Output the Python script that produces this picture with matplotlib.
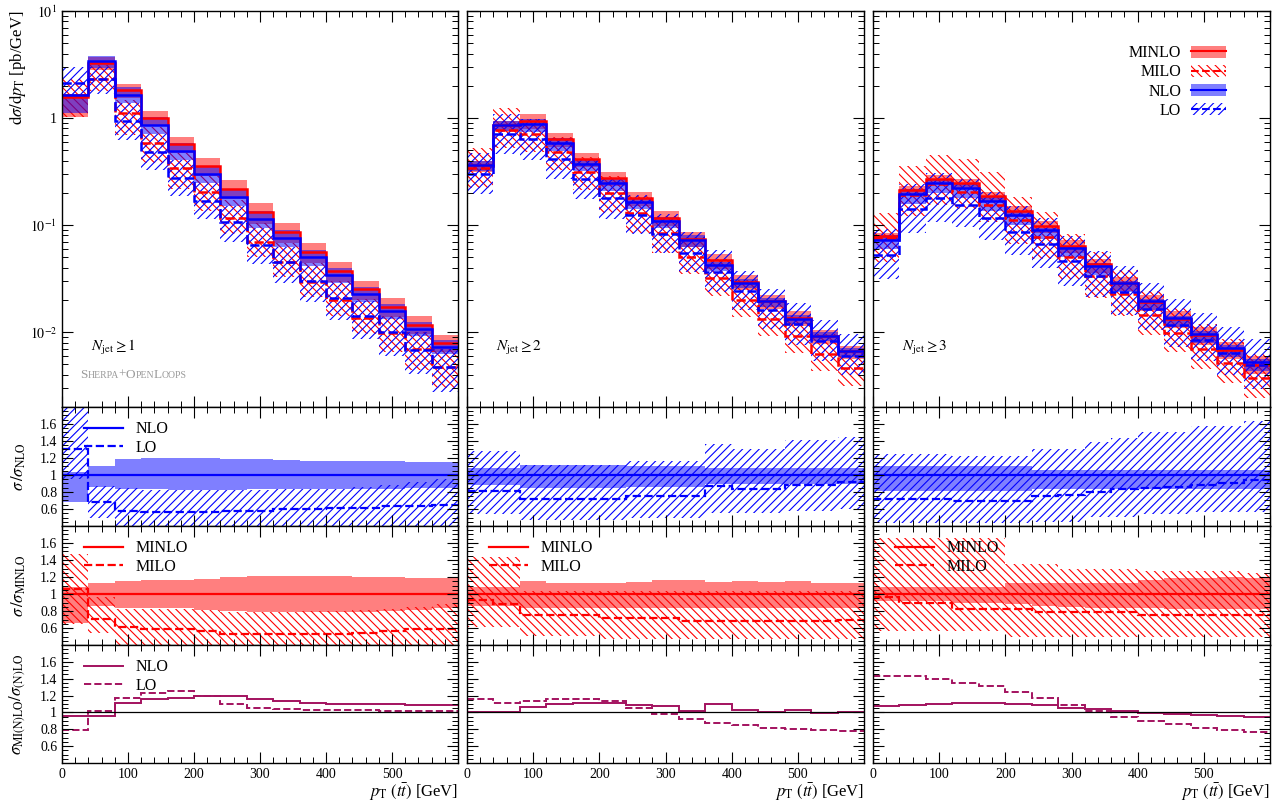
import numpy as np
import matplotlib
matplotlib.use("Agg")
import matplotlib.pyplot as plt
from matplotlib.lines import Line2D
from matplotlib.patches import Patch
from matplotlib.ticker import MultipleLocator, FixedLocator, FuncFormatter, LogLocator, NullFormatter
from matplotlib.offsetbox import TextArea, HPacker, AnnotationBbox

plt.rcParams['font.family'] = ['Liberation Serif', 'DejaVu Serif']
plt.rcParams['mathtext.fontset'] = 'stix'
plt.rcParams['hatch.linewidth'] = 0.8

# bin edges in pT(ttbar) [GeV]
edges = np.arange(0, 640, 40)

# ---------------- N_jet >= 1 ----------------
nlo_1 = [1.63, 3.44, 1.63, 0.86, 0.49, 0.30, 0.184, 0.114, 0.076, 0.050, 0.034, 0.0229, 0.0158, 0.0108, 0.0073]
nlo_up_1 = [1.04, 1.11, 1.19, 1.2, 1.2, 1.2, 1.19, 1.19, 1.18, 1.17, 1.17, 1.16, 1.16, 1.15, 1.15]
nlo_dn_1 = [0.68, 0.86, 0.84, 0.83, 0.82, 0.82, 0.82, 0.83, 0.83, 0.83, 0.84, 0.84, 0.84, 0.85, 0.85]
lo_r_1 = [1.30, 0.68, 0.575, 0.565, 0.565, 0.565, 0.575, 0.575, 0.595, 0.595, 0.615, 0.615, 0.635, 0.635, 0.65]
lo_up_1 = [1.85, 0.87, 0.85, 0.82, 0.82, 0.82, 0.82, 0.82, 0.83, 0.83, 0.84, 0.86, 0.88, 0.92, 0.95]
lo_dn_1 = [0.95, 0.49, 0.38, 0.38, 0.38, 0.38, 0.38, 0.38, 0.38, 0.38, 0.38, 0.38, 0.38, 0.38, 0.38]
mnlo_up_1 = [1.08, 1.125, 1.155, 1.165, 1.165, 1.175, 1.205, 1.21, 1.21, 1.21, 1.21, 1.205, 1.2, 1.19, 1.19]
mnlo_dn_1 = [0.66, 0.86, 0.84, 0.84, 0.83, 0.81, 0.8, 0.785, 0.785, 0.785, 0.785, 0.79, 0.8, 0.81, 0.83]
milo_r_1 = [1.06, 0.71, 0.61, 0.59, 0.59, 0.57, 0.53, 0.53, 0.53, 0.53, 0.53, 0.54, 0.57, 0.59, 0.59]
milo_up_1 = [1.47, 0.96, 0.82, 0.82, 0.82, 0.81, 0.79, 0.79, 0.79, 0.8, 0.8, 0.81, 0.82, 0.85, 0.88]
milo_dn_1 = [0.65, 0.54, 0.38, 0.38, 0.38, 0.38, 0.38, 0.38, 0.38, 0.38, 0.38, 0.38, 0.38, 0.38, 0.38]
k_nlo_1 = [0.957, 0.957, 1.113, 1.164, 1.172, 1.19, 1.19, 1.156, 1.133, 1.117, 1.105, 1.1, 1.095, 1.09, 1.086]
k_lo_1 = [0.79, 1.016, 1.175, 1.234, 1.25, 1.19, 1.105, 1.058, 1.04, 1.03, 1.027, 1.023, 1.02, 1.018, 1.016]

# ---------------- N_jet >= 2 ----------------
nlo_2 = [0.365, 0.86, 0.88, 0.58, 0.373, 0.247, 0.164, 0.109, 0.0732, 0.0423, 0.0289, 0.0194, 0.0133, 0.00928, 0.00662]
nlo_up_2 = [1.08, 1.08, 1.12, 1.12, 1.12, 1.12, 1.1, 1.1, 1.1, 1.08, 1.08, 1.08, 1.08, 1.08, 1.08]
nlo_dn_2 = [0.88, 0.88, 0.85, 0.85, 0.85, 0.85, 0.86, 0.86, 0.86, 0.89, 0.89, 0.89, 0.89, 0.89, 0.89]
lo_r_2 = [0.817, 0.817, 0.72, 0.72, 0.72, 0.72, 0.75, 0.75, 0.75, 0.87, 0.83, 0.83, 0.887, 0.887, 0.914]
lo_up_2 = [1.28, 1.28, 1.12, 1.12, 1.12, 1.12, 1.17, 1.17, 1.17, 1.37, 1.3, 1.3, 1.41, 1.41, 1.45]
lo_dn_2 = [0.536, 0.536, 0.466, 0.466, 0.466, 0.466, 0.5, 0.5, 0.5, 0.555, 0.555, 0.555, 0.575, 0.575, 0.595]
mnlo_up_2 = [1.08, 1.08, 1.156, 1.13, 1.13, 1.13, 1.136, 1.164, 1.164, 1.145, 1.156, 1.145, 1.15, 1.13, 1.125]
mnlo_dn_2 = [0.86, 0.86, 0.84, 0.84, 0.84, 0.84, 0.84, 0.84, 0.84, 0.84, 0.84, 0.84, 0.84, 0.84, 0.84]
milo_r_2 = [0.93, 0.883, 0.755, 0.755, 0.755, 0.72, 0.72, 0.72, 0.68, 0.68, 0.68, 0.68, 0.68, 0.68, 0.70]
milo_up_2 = [1.437, 1.437, 1.04, 1.04, 1.04, 1.04, 1.04, 1.04, 1.04, 1.04, 1.04, 1.04, 1.04, 1.04, 1.04]
milo_dn_2 = [0.61, 0.61, 0.51, 0.51, 0.51, 0.47, 0.47, 0.47, 0.47, 0.47, 0.47, 0.47, 0.47, 0.47, 0.47]
k_nlo_2 = [1.0, 1.01, 1.066, 1.097, 1.113, 1.113, 1.094, 1.078, 1.02, 1.105, 1.027, 1.0, 1.027, 0.99, 1.0]
k_lo_2 = [1.156, 1.113, 1.133, 1.156, 1.156, 1.133, 1.047, 0.98, 0.918, 0.879, 0.852, 0.82, 0.805, 0.786, 0.774]

# ---------------- N_jet >= 3 ----------------
nlo_3 = [0.0733, 0.196, 0.247, 0.222, 0.168, 0.123, 0.0894, 0.0606, 0.0415, 0.0286, 0.0194, 0.0135, 0.00962, 0.0071, 0.00525]
nlo_up_3 = [1.1, 1.1, 1.1, 1.1, 1.1, 1.1, 1.06, 1.06, 1.06, 1.06, 1.06, 1.06, 1.06, 1.06, 1.06]
nlo_dn_3 = [0.81, 0.81, 0.81, 0.81, 0.81, 0.81, 0.83, 0.83, 0.83, 0.83, 0.83, 0.83, 0.83, 0.83, 0.83]
lo_r_3 = [0.723, 0.723, 0.723, 0.70, 0.70, 0.70, 0.75, 0.77, 0.80, 0.83, 0.848, 0.86, 0.887, 0.906, 0.945]
lo_up_3 = [1.245, 1.245, 1.245, 1.22, 1.22, 1.22, 1.30, 1.30, 1.385, 1.44, 1.5, 1.5, 1.577, 1.577, 1.64]
lo_dn_3 = [0.43, 0.43, 0.43, 0.43, 0.43, 0.43, 0.447, 0.447, 0.51, 0.51, 0.536, 0.536, 0.563, 0.563, 0.563]
mnlo_up_3 = [1.08, 1.08, 1.08, 1.08, 1.08, 1.125, 1.125, 1.135, 1.135, 1.135, 1.17, 1.19, 1.19, 1.2, 1.19]
mnlo_dn_3 = [0.92, 0.92, 0.92, 0.9, 0.9, 0.88, 0.86, 0.85, 0.84, 0.84, 0.83, 0.82, 0.82, 0.82, 0.82]
milo_r_3 = [0.96, 0.895, 0.895, 0.825, 0.825, 0.825, 0.786, 0.786, 0.786, 0.786, 0.75, 0.75, 0.75, 0.75, 0.75]
milo_up_3 = [1.66, 1.66, 1.66, 1.66, 1.66, 1.35, 1.35, 1.3, 1.3, 1.3, 1.27, 1.27, 1.27, 1.27, 1.25]
milo_dn_3 = [0.57, 0.57, 0.57, 0.57, 0.57, 0.49, 0.49, 0.49, 0.49, 0.49, 0.49, 0.49, 0.49, 0.49, 0.49]
k_nlo_3 = [1.074, 1.086, 1.097, 1.113, 1.117, 1.097, 1.094, 1.058, 1.035, 1.016, 0.988, 0.98, 0.97, 0.96, 0.95]
k_lo_3 = [1.437, 1.43, 1.40, 1.35, 1.31, 1.24, 1.17, 1.086, 1.02, 0.95, 0.9, 0.864, 0.813, 0.786, 0.766]

njet_labels = [r'$N_\mathrm{jet} \geq 1$', r'$N_\mathrm{jet} \geq 2$', r'$N_\mathrm{jet} \geq 3$']

columns = [
    (nlo_1, nlo_up_1, nlo_dn_1, lo_r_1, lo_up_1, lo_dn_1, mnlo_up_1, mnlo_dn_1, milo_r_1, milo_up_1, milo_dn_1, k_nlo_1, k_lo_1),
    (nlo_2, nlo_up_2, nlo_dn_2, lo_r_2, lo_up_2, lo_dn_2, mnlo_up_2, mnlo_dn_2, milo_r_2, milo_up_2, milo_dn_2, k_nlo_2, k_lo_2),
    (nlo_3, nlo_up_3, nlo_dn_3, lo_r_3, lo_up_3, lo_dn_3, mnlo_up_3, mnlo_dn_3, milo_r_3, milo_up_3, milo_dn_3, k_nlo_3, k_lo_3),
]

RED = '#ff0000'
BLUE = '#0000ff'
PURP = '#a3125f'
HB = '////'
HR = '\\\\\\\\'

W, H = 1285, 805
col_px = [(62, 458), (467, 864), (873, 1270)]
row_px = [(11, 407), (407, 526), (526, 645), (645, 763)]

fig = plt.figure(figsize=(W / 100, H / 100), dpi=100)


def rect(c, r):
    x0, x1 = c
    y0, y1 = r
    return [x0 / W, 1 - y1 / H, (x1 - x0) / W, (y1 - y0) / H]


def band(ax, lo, hi, color, hatch=None):
    if hatch is None:
        ax.stairs(hi, edges, baseline=lo, fill=True, facecolor=color, alpha=0.5, lw=0)
    else:
        ax.stairs(hi, edges, baseline=lo, fill=True, facecolor='none', edgecolor=color, hatch=hatch, lw=0)


def line(ax, vals, color, lw, ls='-', label=None):
    ax.stairs(vals, edges, baseline=None, color=color, lw=lw, ls=ls, label=label)


def style(ax):
    ax.set_xlim(0, 600)
    ax.xaxis.set_major_locator(MultipleLocator(100))
    ax.xaxis.set_minor_locator(MultipleLocator(20))
    ax.tick_params(which='both', direction='in', top=True, right=True, labelsize=10)
    ax.tick_params(which='major', length=8, width=0.8)
    ax.tick_params(which='minor', length=4, width=0.7)
    for s in ax.spines.values():
        s.set_linewidth(1.0)


def smallcaps(ax, x, y, pieces, color):
    boxes = [TextArea(t, textprops=dict(fontsize=fs, color=color)) for t, fs in pieces]
    pack = HPacker(children=boxes, align='baseline', pad=0, sep=0)
    ab = AnnotationBbox(pack, (x, y), xycoords='axes fraction', frameon=False, box_alignment=(0, 0.5))
    ax.add_artist(ab)


for ci, data in enumerate(columns):
    (nlo, nlo_up, nlo_dn, lo_r, lo_up, lo_dn, mnlo_up, mnlo_dn,
     milo_r, milo_up, milo_dn, k_nlo, k_lo) = [np.array(a) for a in data]
    minlo = nlo * k_nlo
    lo = nlo * lo_r
    milo = minlo * milo_r

    # ---- main panel ----
    ax = fig.add_axes(rect(col_px[ci], row_px[0]))
    band(ax, minlo * mnlo_dn, minlo * mnlo_up, RED)
    band(ax, minlo * milo_dn, minlo * milo_up, RED, HR)
    band(ax, nlo * nlo_dn, nlo * nlo_up, BLUE)
    band(ax, nlo * lo_dn, nlo * lo_up, BLUE, HB)
    line(ax, minlo, RED, 1.8)
    line(ax, milo, RED, 1.8, '--')
    line(ax, nlo, BLUE, 1.8)
    line(ax, lo, BLUE, 1.8, '--')
    ax.set_yscale('log')
    ax.set_ylim(2e-3, 10)
    style(ax)
    ax.yaxis.set_major_locator(FixedLocator([1e-2, 1e-1, 1, 10]))
    ax.yaxis.set_minor_locator(LogLocator(base=10, subs=np.arange(2, 10)))
    ax.yaxis.set_minor_formatter(NullFormatter())
    ax.tick_params(labelbottom=False)
    if ci == 0:
        lab = {1e-2: r'$10^{-2}$', 1e-1: r'$10^{-1}$', 1: '1', 10: r'$10^{1}$'}
        ax.yaxis.set_major_formatter(FuncFormatter(lambda v, p: lab.get(v, '')))
        ax.set_ylabel(r'$\mathrm{d}\sigma/\mathrm{d}p_\mathrm{T}$ [pb/GeV]', fontsize=12, loc='top')
        ax.yaxis.set_label_coords(-0.085, 1.0)
        smallcaps(ax, 0.045, 0.081,
                  [('S', 9.5), ('HERPA', 7), ('+', 9.5), ('O', 9.5), ('PEN', 7), ('L', 9.5), ('OOPS', 7)],
                  '#9a9a9a')
    else:
        ax.tick_params(labelleft=False)
    ax.text(0.072, 0.149, njet_labels[ci], transform=ax.transAxes, fontsize=11, va='center')
    if ci == 2:
        handles = [
            (Patch(facecolor=RED, alpha=0.5, lw=0), Line2D([], [], color=RED, lw=1.5)),
            (Patch(facecolor='none', edgecolor=RED, hatch=HR, lw=0), Line2D([], [], color=RED, lw=1.5, ls='--')),
            (Patch(facecolor=BLUE, alpha=0.5, lw=0), Line2D([], [], color=BLUE, lw=1.5)),
            (Patch(facecolor='none', edgecolor=BLUE, hatch=HB, lw=0), Line2D([], [], color=BLUE, lw=1.5, ls='--')),
        ]
        ax.legend(handles, ['MINLO', 'MILO', 'NLO', 'LO'], loc='upper right', bbox_to_anchor=(0.925, 0.95),
                  markerfirst=False, frameon=False, fontsize=11.5, handlelength=2.2, handleheight=0.8,
                  labelspacing=0.2, handletextpad=0.6)

    # ---- ratio panels ----
    ones = np.ones(len(nlo))
    for ri in range(3):
        rx = fig.add_axes(rect(col_px[ci], row_px[ri + 1]))
        if ri == 0:
            band(rx, nlo_dn, nlo_up, BLUE)
            band(rx, lo_dn, lo_up, BLUE, HB)
            line(rx, ones, BLUE, 1.6, label='NLO')
            line(rx, lo_r, BLUE, 1.6, '--', label='LO')
            show_leg = ci == 0
        elif ri == 1:
            band(rx, mnlo_dn, mnlo_up, RED)
            band(rx, milo_dn, milo_up, RED, HR)
            line(rx, ones, RED, 1.6, label='MINLO')
            line(rx, milo_r, RED, 1.6, '--', label='MILO')
            show_leg = True
        else:
            rx.axhline(1.0, color='black', lw=0.9)
            line(rx, k_nlo, PURP, 1.4, label='NLO')
            line(rx, k_lo, PURP, 1.4, '--', label='LO')
            show_leg = ci == 0
        rx.set_ylim(0.4, 1.8)
        style(rx)
        rx.yaxis.set_major_locator(FixedLocator([0.6, 0.8, 1.0, 1.2, 1.4, 1.6]))
        rx.yaxis.set_minor_locator(MultipleLocator(0.05))
        if show_leg:
            rx.legend(loc='upper left', bbox_to_anchor=(0.02, 1.0), frameon=False, fontsize=11.5,
                      handlelength=2.4, labelspacing=0.15, handletextpad=0.8)
        if ci == 0:
            rx.yaxis.set_major_formatter(FuncFormatter(lambda v, p: '1' if abs(v - 1) < 1e-9 else f'{v:.1f}'))
            ylabs = [r'$\sigma\,/\sigma_\mathrm{NLO}$', r'$\sigma\,/\sigma_\mathrm{MINLO}$',
                     r'$\sigma_\mathrm{MI(N)LO}/\sigma_\mathrm{(N)LO}$']
            rx.set_ylabel(ylabs[ri], fontsize=12)
            rx.yaxis.set_label_coords(-0.085, 0.5)
        else:
            rx.tick_params(labelleft=False)
        if ri < 2:
            rx.tick_params(labelbottom=False)
        else:
            rx.set_xticks([0, 100, 200, 300, 400, 500])
            rx.set_xlabel(r'$p_\mathrm{T}\ (t\bar{t})$ [GeV]', fontsize=12, loc='right', labelpad=1)

fig.savefig('out.png', dpi=100)
